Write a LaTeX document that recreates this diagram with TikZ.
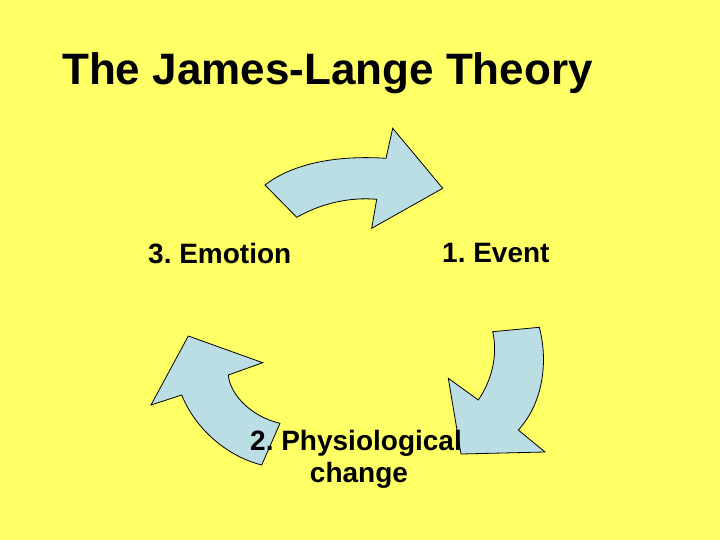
\documentclass[tikz,border=0pt]{standalone}
\usepackage{fontspec}
\setmainfont{Liberation Sans}
\frenchspacing
\definecolor{bgyellow}{RGB}{255,255,102}
\definecolor{arrowblue}{RGB}{187,221,228}
\begin{document}
\begin{tikzpicture}[x=1pt,y=-1pt,
  blockarrow/.style={draw=black, line width=0.8pt, fill=arrowblue, line join=miter},
  titletext/.style={anchor=base west, inner sep=0pt, font=\fontsize{44}{50}\selectfont\bfseries},
  labeltext/.style={anchor=base west, inner sep=0pt, font=\fontsize{28}{32}\selectfont\bfseries}]
\useasboundingbox (0,0) rectangle (720,540);
\fill[bgyellow] (0,0) rectangle (720,540);
% top arrow (Emotion side -> Event)
\draw[blockarrow] (265,185) -- (296.7,217.3)
  .. controls (322,203) and (350,197) .. (376.7,199.3)
  -- (371.7,228.3) -- (442.7,188.3) -- (392.7,128.3) -- (386,158.3)
  .. controls (335,155) and (292,164) .. cycle;
% right arrow (Event -> Physiological change)
\draw[blockarrow] (492.7,331.7) -- (539.3,327.3)
  .. controls (548,360) and (544,402) .. (518.3,430)
  -- (545,452) -- (461,454) -- (448.3,378.3) -- (478.3,400)
  .. controls (492,380) and (498,355) .. cycle;
% left arrow (Physiological change -> Emotion)
\draw[blockarrow] (188.3,336) -- (262.7,362.7) -- (228.3,375)
  .. controls (230,395) and (252,417) .. (280,423.3)
  -- (261.7,465)
  .. controls (226,456) and (195,428) .. (181.7,395)
  -- (151,405) -- cycle;
\node[titletext] (title) at (62,85) {The James-Lange Theory};
\node[labeltext] (emotion) at (148,263) {3. Emotion};
\node[labeltext] (event) at (442,262) {1. Event};
\node[labeltext] (phys) at (250,450) {2. Physiological};
\node[anchor=base, inner sep=0pt, font=\fontsize{28}{32}\selectfont\bfseries] (change) at (359,482) {change};
\end{tikzpicture}
\end{document}
